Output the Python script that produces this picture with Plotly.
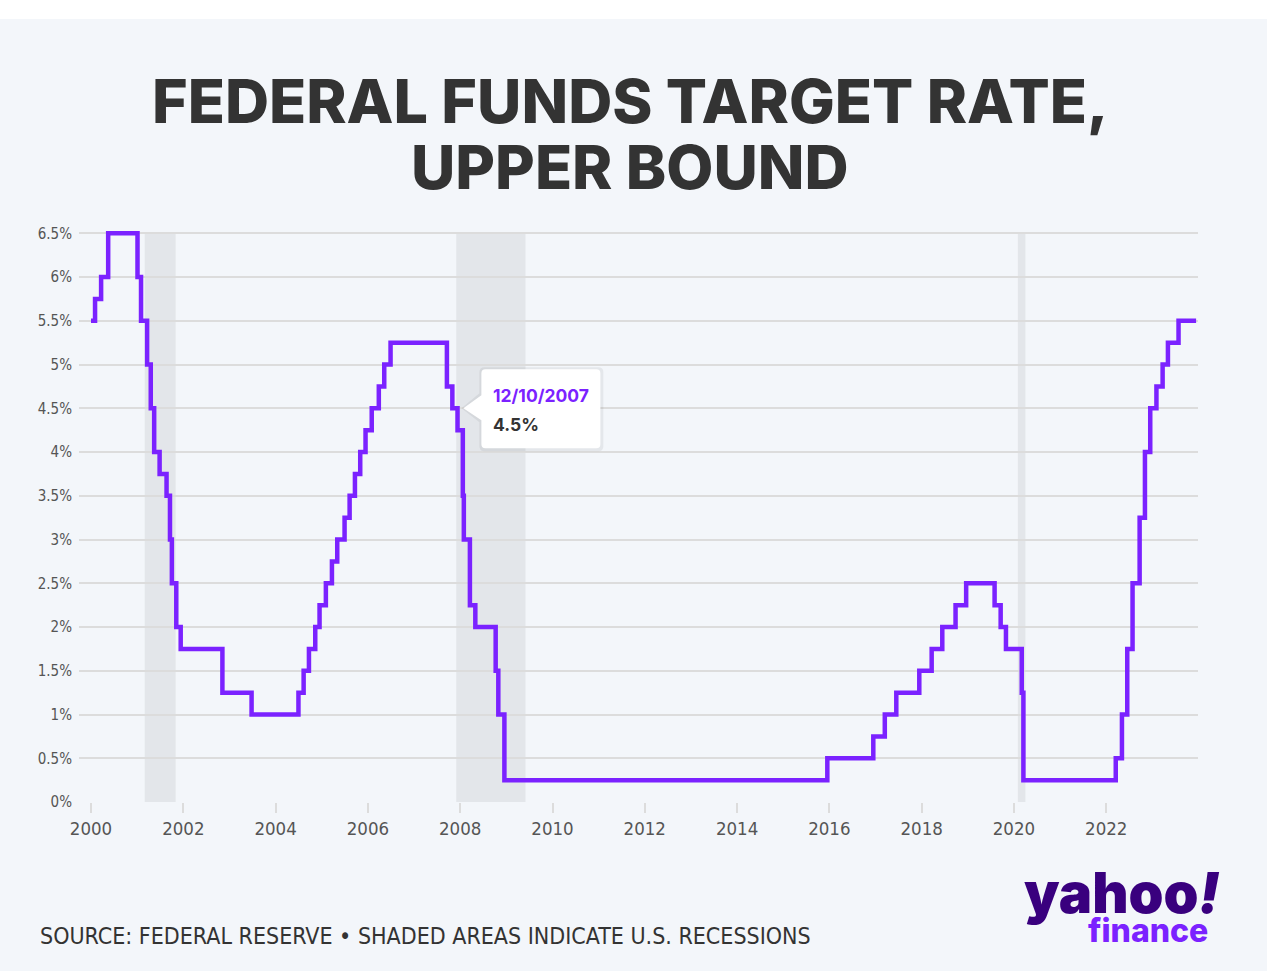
import plotly.graph_objects as go

# ---- data ----
change_dates = ["2000-01-01","2000-02-02","2000-03-21","2000-05-16",
    "2001-01-03","2001-01-31","2001-03-20","2001-04-18","2001-05-15","2001-06-27","2001-08-21","2001-09-17","2001-10-02","2001-11-06","2001-12-11",
    "2002-11-06","2003-06-25",
    "2004-06-30","2004-08-10","2004-09-21","2004-11-10","2004-12-14",
    "2005-02-02","2005-03-22","2005-05-03","2005-06-30","2005-08-09","2005-09-20","2005-11-01","2005-12-13",
    "2006-01-31","2006-03-28","2006-05-10","2006-06-29",
    "2007-09-18","2007-10-31","2007-12-11",
    "2008-01-22","2008-01-30","2008-03-18","2008-04-30","2008-10-08","2008-10-29","2008-12-16",
    "2015-12-16","2016-12-14",
    "2017-03-15","2017-06-14","2017-12-13",
    "2018-03-21","2018-06-13","2018-09-26","2018-12-19",
    "2019-08-01","2019-09-18","2019-10-30",
    "2020-03-03","2020-03-16",
    "2022-03-17","2022-05-05","2022-06-16","2022-07-28","2022-09-22","2022-11-03","2022-12-15",
    "2023-02-02","2023-03-23","2023-05-04","2023-07-27","2023-12-13"]
upper_bound = [5.5,5.75,6.0,6.5,
    6.0,5.5,5.0,4.5,4.0,3.75,3.5,3.0,2.5,2.0,1.75,
    1.25,1.0,
    1.25,1.5,1.75,2.0,2.25,
    2.5,2.75,3.0,3.25,3.5,3.75,4.0,4.25,
    4.5,4.75,5.0,5.25,
    4.75,4.5,4.25,
    3.5,3.0,2.25,2.0,1.5,1.0,0.25,
    0.5,0.75,
    1.0,1.25,1.5,
    1.75,2.0,2.25,2.5,
    2.25,2.0,1.75,
    1.25,0.25,
    0.5,1.0,1.75,2.5,3.25,4.0,4.5,
    4.75,5.0,5.25,5.5,5.5]

recession_starts = ["2001-03-01", "2007-12-01", "2020-02-01"]
recession_ends = ["2001-11-01", "2009-06-01", "2020-04-01"]

y_tick_values = [0, 0.5, 1, 1.5, 2, 2.5, 3, 3.5, 4, 4.5, 5, 5.5, 6, 6.5]
y_tick_labels = ["0%", "0.5%", "1%", "1.5%", "2%", "2.5%", "3%", "3.5%", "4%", "4.5%", "5%", "5.5%", "6%", "6.5%"]
x_tick_years = ["2000","2002","2004","2006","2008","2010","2012","2014","2016","2018","2020","2022"]

tooltip_date = "2007-12-10"
tooltip_date_label = "12/10/2007"
tooltip_value = 4.5

# ---- layout geometry ----
W, H = 1280, 971
L, R, T, B = 79, 82, 229, 169
PW, PH = W - L - R, H - T - B

def px(p):
    return (p - L) / PW

def py(p):
    return (H - B - p) / PH

BG = "#f3f6fa"
PURPLE = "#7b22ff"
COND = "Liberation Sans Narrow, DejaVu Sans Condensed, Arial Narrow, sans-serif"

fig = go.Figure()
fig.add_trace(go.Scatter(
    x=change_dates, y=upper_bound, mode="lines",
    line=dict(color=PURPLE, width=4.5, shape="hv"),
    hoverinfo="skip", showlegend=False,
))

shapes = []
# outer white frame
shapes.append(dict(type="rect", xref="paper", yref="paper", x0=px(-5), x1=px(W + 5),
                   y0=py(-5), y1=py(19), fillcolor="white", line=dict(width=0), layer="below"))
shapes.append(dict(type="rect", xref="paper", yref="paper", x0=px(1267), x1=px(W + 5),
                   y0=py(H + 5), y1=py(-5), fillcolor="white", line=dict(width=0), layer="below"))
# recessions
for s, e in zip(recession_starts, recession_ends):
    shapes.append(dict(type="rect", xref="x", yref="y", x0=s, x1=e, y0=0, y1=6.5,
                       fillcolor="#e3e6ea", line=dict(width=0), layer="below"))

# tooltip (pixel offsets from the data point, y positive up)
def rounded_box(x0, x1, y0, y1, r, tip_y0, tip_y1, tip_tip):
    return (f"M {x0} {tip_y1} L {tip_tip} 0 L {x0} {tip_y0} "
            f"L {x0} {y0 + r} Q {x0} {y0} {x0 + r} {y0} "
            f"L {x1 - r} {y0} Q {x1} {y0} {x1} {y0 + r} "
            f"L {x1} {y1 - r} Q {x1} {y1} {x1 - r} {y1} "
            f"L {x0 + r} {y1} Q {x0} {y1} {x0} {y1 - r} Z")

shadow = rounded_box(22, 146, -43, 41, 5, -14, 15, 4)
box = rounded_box(24, 143, -40, 39, 4, -12, 13, 6)
shapes.append(dict(type="path", xref="x", yref="y", xsizemode="pixel", ysizemode="pixel",
                   xanchor=tooltip_date, yanchor=tooltip_value, path=shadow,
                   fillcolor="rgba(0,0,0,0.06)", line=dict(width=0), layer="above"))
shapes.append(dict(type="path", xref="x", yref="y", xsizemode="pixel", ysizemode="pixel",
                   xanchor=tooltip_date, yanchor=tooltip_value, path=box,
                   fillcolor="white", line=dict(width=0), layer="above"))

annotations = []
annotations.append(dict(x=tooltip_date, y=tooltip_value, xref="x", yref="y",
                        text=f"<b>{tooltip_date_label}</b>", showarrow=False,
                        xanchor="left", yanchor="middle", xshift=34, yshift=13,
                        font=dict(family="Inter, Roboto, sans-serif", size=17.5, color=PURPLE)))
annotations.append(dict(x=tooltip_date, y=tooltip_value, xref="x", yref="y",
                        text=f"<b>{tooltip_value}%</b>", showarrow=False,
                        xanchor="left", yanchor="middle", xshift=34, yshift=-16,
                        font=dict(family="Inter, Roboto, sans-serif", size=17.5, color="#333333")))

# title
title_font = dict(family="Inter, Roboto, sans-serif", size=61, color="#333333", weight=800)
annotations.append(dict(x=px(630), y=py(101), xref="paper", yref="paper", text="FEDERAL FUNDS TARGET RATE,",
                        showarrow=False, xanchor="center", yanchor="middle", font=title_font))
annotations.append(dict(x=px(630), y=py(167), xref="paper", yref="paper", text="UPPER BOUND",
                        showarrow=False, xanchor="center", yanchor="middle", font=title_font))
# source
annotations.append(dict(x=px(38), y=py(936), xref="paper", yref="paper",
                        text="SOURCE: FEDERAL RESERVE • SHADED AREAS INDICATE U.S. RECESSIONS",
                        showarrow=False, xanchor="left", yanchor="middle",
                        font=dict(family=COND, size=23, color="#333333")))
# logo
annotations.append(dict(x=px(1222), y=py(893), xref="paper", yref="paper", text="yahoo<i>!</i>",
                        showarrow=False, xanchor="right", yanchor="middle",
                        font=dict(family="Inter, Lato, sans-serif", size=56, color="#39007e", weight=900)))
annotations.append(dict(x=px(1210), y=py(930), xref="paper", yref="paper", text="finance",
                        showarrow=False, xanchor="right", yanchor="middle",
                        font=dict(family="Inter, Lato, sans-serif", size=32, color="#7b22ff", weight=800)))

fig.update_layout(
    width=W, height=H,
    margin=dict(l=L, r=R, t=T, b=B, pad=0),
    paper_bgcolor=BG, plot_bgcolor=BG,
    shapes=shapes, annotations=annotations,
    showlegend=False,
    xaxis=dict(
        type="date", range=["1999-09-28", "2023-12-28"],
        tickvals=[f"{y}-01-01" for y in x_tick_years], ticktext=x_tick_years,
        showgrid=False, zeroline=False, showline=False,
        ticks="outside", ticklen=10, tickwidth=2, tickcolor="#dcdcdc",
        tickfont=dict(family=COND, size=18.5, color="#555555"),
    ),
    yaxis=dict(
        range=[0, 6.55], tickvals=y_tick_values, ticktext=y_tick_labels,
        showgrid=True, gridcolor="#dcdcdc", gridwidth=2, zeroline=False, showline=False,
        ticks="", ticklabelstandoff=6,
        tickfont=dict(family=COND, size=15, color="#555555"),
    ),
)

fig.write_html("out.html", config={"displayModeBar": False},
               post_script="document.body.style.margin='0px';document.body.style.background='white';")
